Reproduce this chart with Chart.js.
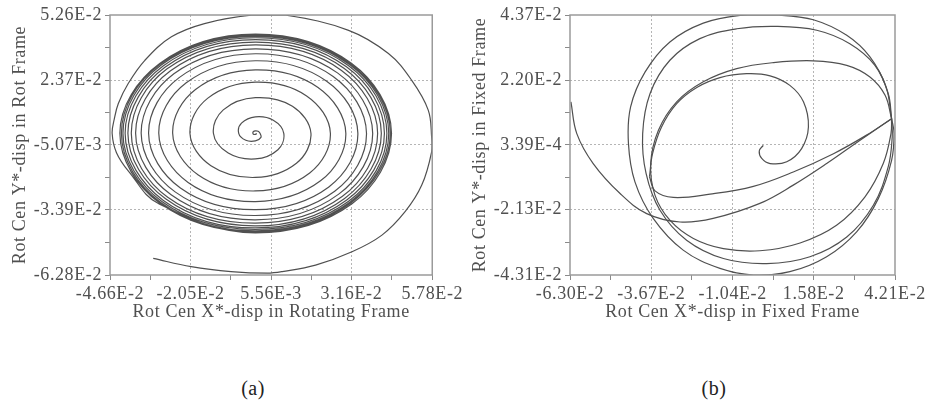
<!DOCTYPE html>
<html><head><meta charset="utf-8">
<script src="https://cdn.jsdelivr.net/npm/chart.js@4.4.1/dist/chart.umd.min.js"></script>
<style>
html,body{margin:0;padding:0;background:#fff;width:927px;height:407px;overflow:hidden;position:relative;}
canvas{position:absolute;top:0;}
#ca{left:0;} #cb{left:460px;}
.cap{position:absolute;top:376px;font:20px "Liberation Serif","Times New Roman",serif;color:#222;width:60px;text-align:center;line-height:24px;letter-spacing:0.5px;}
</style></head><body>
<canvas id="ca" width="464" height="330"></canvas>
<canvas id="cb" width="467" height="330"></canvas>
<div class="cap" style="left:223px">(a)</div>
<div class="cap" style="left:684px">(b)</div>
<script>
// ---- Axis ticks (a) ----
const aXTicks = [-0.0466, -0.0205, 0.00556, 0.0316, 0.0578];
const aXLabels = ['-4.66E-2', '-2.05E-2', '5.56E-3', '3.16E-2', '5.78E-2'];
const aXMinor = [-0.03355, -0.00747, 0.01858, 0.0447];
const aYTicks = [-0.0628, -0.0339, -0.00507, 0.0237, 0.0526];
const aYLabels = ['-6.28E-2', '-3.39E-2', '-5.07E-3', '2.37E-2', '5.26E-2'];
const aYMinor = [-0.04835, -0.01949, 0.00932, 0.03815];
// ---- Axis ticks (b) ----
const bXTicks = [-0.0630, -0.0367, -0.0104, 0.0158, 0.0421];
const bXLabels = ['-6.30E-2', '-3.67E-2', '-1.04E-2', '1.58E-2', '4.21E-2'];
const bXMinor = [-0.04985, -0.02355, 0.0027, 0.02895];
const bYTicks = [-0.0431, -0.0213, 0.000339, 0.0220, 0.0437];
const bYLabels = ['-4.31E-2', '-2.13E-2', '3.39E-4', '2.20E-2', '4.37E-2'];
const bYMinor = [-0.0322, -0.01048, 0.01117, 0.03285];

// ---- (a) orbit in rotating frame: [x, y] ----
const aOrbit = [
[0.0007,0.0001],[0.0008,-0.0002],[0.0005,-0.0004],[0.0000,-0.0004],[-0.0003,0.0001],[-0.0002,0.0008],[0.0005,0.0012],[0.0014,0.0010],
[0.0020,0.0001],[0.0023,-0.0017],[0.0005,-0.0033],[-0.0026,-0.0030],[-0.0049,0.0001],[-0.0040,0.0046],[0.0005,0.0074],[0.0063,0.0059],
[0.0097,0.0001],[0.0078,-0.0072],[0.0005,-0.0113],[-0.0083,-0.0087],[-0.0131,0.0001],[-0.0099,0.0105],[0.0005,0.0159],[0.0125,0.0121],
[0.0185,0.0001],[0.0138,-0.0132],[0.0005,-0.0195],[-0.0139,-0.0143],[-0.0207,0.0001],[-0.0150,0.0156],[0.0005,0.0228],[0.0171,0.0167],
[0.0248,0.0001],[0.0181,-0.0175],[0.0005,-0.0255],[-0.0180,-0.0184],[-0.0263,0.0001],[-0.0189,0.0195],[0.0005,0.0282],[0.0208,0.0204],
[0.0298,0.0001],[0.0216,-0.0210],[0.0005,-0.0302],[-0.0213,-0.0217],[-0.0308,0.0001],[-0.0219,0.0225],[0.0005,0.0323],[0.0236,0.0232],
[0.0337,0.0001],[0.0243,-0.0237],[0.0005,-0.0338],[-0.0238,-0.0242],[-0.0341,0.0001],[-0.0242,0.0248],[0.0005,0.0354],[0.0257,0.0253],
[0.0365,0.0001],[0.0262,-0.0256],[0.0005,-0.0364],[-0.0255,-0.0259],[-0.0365,0.0001],[-0.0259,0.0265],[0.0005,0.0376],[0.0272,0.0268],
[0.0385,0.0001],[0.0275,-0.0269],[0.0005,-0.0383],[-0.0268,-0.0272],[-0.0383,0.0001],[-0.0271,0.0277],[0.0005,0.0393],[0.0284,0.0280],
[0.0401,0.0001],[0.0286,-0.0280],[0.0005,-0.0398],[-0.0279,-0.0283],[-0.0397,0.0001],[-0.0281,0.0287],[0.0005,0.0406],[0.0293,0.0289],
[0.0413,0.0001],[0.0294,-0.0288],[0.0005,-0.0410],[-0.0286,-0.0290],[-0.0408,0.0001],[-0.0288,0.0294],[0.0005,0.0417],[0.0300,0.0296],
[0.0423,0.0001],[0.0301,-0.0295],[0.0005,-0.0419],[-0.0293,-0.0297],[-0.0417,0.0001],[-0.0294,0.0300],[0.0005,0.0425],[0.0306,0.0302],
[0.0431,0.0001],[0.0307,-0.0301],[0.0005,-0.0426],[-0.0298,-0.0302],[-0.0424,0.0001],[-0.0299,0.0305],[0.0005,0.0431],[0.0310,0.0306],
[0.0437,0.0001],[0.0311,-0.0305],[0.0005,-0.0432],[-0.0302,-0.0306],[-0.0429,0.0001],[-0.0303,0.0309],[0.0005,0.0436],[0.0313,0.0309],
[0.0442,0.0001],[0.0314,-0.0308],[0.0005,-0.0437],[-0.0305,-0.0309],[-0.0434,0.0001],[-0.0305,0.0311],[0.0005,0.0441],[0.0316,0.0312],
[0.0446,0.0001],[0.0318,-0.0312],[0.0005,-0.0441],[-0.0308,-0.0312],
[-0.0405,-0.0169],[-0.0445,-0.0085],[-0.0459,0.0000],[-0.0452,0.0065],[-0.0439,0.0133],[-0.0407,0.0222],[-0.0353,0.0325],[-0.0267,0.0429],[-0.0160,0.0488],
[-0.0009,0.0525],[0.0104,0.0525],[0.0307,0.0458],[0.0436,0.0355],[0.0511,0.0237],[0.0565,0.0104],[0.0576,-0.0015],
[0.0576,-0.0081],[0.0544,-0.0229],[0.0490,-0.0347],[0.0415,-0.0451],[0.0318,-0.0525],[0.0200,-0.0584],[0.0092,-0.0613],
[0.0044,-0.0620],[-0.0074,-0.0613],[-0.0203,-0.0591],[-0.0326,-0.0554]
];

// ---- (b) orbit in fixed frame, split at its sharp corners: [x, y] ----
const bInner = [[-0.0005,0.0002],[-0.0018,-0.0017],[-0.0010,-0.0042],[0.0017,-0.0059],[0.0071,-0.0053],[0.0119,-0.0009],[0.0141,0.0063],[0.0125,0.0147],[0.0081,0.0202],[0.0017,0.0234],[-0.0059,0.0241],[-0.0145,0.0228],[-0.0220,0.0195],[-0.0285,0.0141],[-0.0334,0.0063],[-0.0363,-0.0026],[-0.0373,-0.0103]];
const bTeardrop = [[-0.0373,-0.0103],[-0.0355,-0.0150],[-0.0296,-0.0172],[-0.0177,-0.0161],[-0.0037,-0.0135],[0.0092,-0.0087],[0.0222,-0.0026],[0.0329,0.0036],[0.0410,0.0091]];
const bLap2 = [[0.0410,0.0091],[0.0389,0.0169],[0.0340,0.0230],[0.0265,0.0269],[0.0157,0.0284],[0.0028,0.0278],[-0.0091,0.0258],[-0.0199,0.0214],[-0.0285,0.0147],[-0.0344,0.0052],[-0.0369,-0.0059],[-0.0355,-0.0165],[-0.0307,-0.0248],[-0.0231,-0.0309],[-0.0134,-0.0343],[-0.0016,-0.0350],[0.0114,-0.0324],[0.0232,-0.0265],[0.0324,-0.0170],[0.0383,-0.0059],[0.0408,0.0041],[0.0410,0.0091]];
const bLap3 = [[0.0410,0.0091],[0.0399,0.0175],[0.0356,0.0269],[0.0275,0.0341],[0.0168,0.0386],[0.0038,0.0399],[-0.0091,0.0391],[-0.0210,0.0358],[-0.0307,0.0286],[-0.0371,0.0175],[-0.0395,0.0041],[-0.0384,-0.0092],[-0.0339,-0.0215],[-0.0253,-0.0315],[-0.0134,-0.0376],[0.0006,-0.0393],[0.0146,-0.0370],[0.0265,-0.0304],[0.0351,-0.0198],[0.0399,-0.0070],[0.0412,0.0030],[0.0410,0.0091]];
const bLap4 = [[0.0410,0.0091],[0.0392,0.0197],[0.0340,0.0297],[0.0265,0.0369],[0.0157,0.0421],[0.0038,0.0437],[-0.0080,0.0436],[-0.0199,0.0410],[-0.0307,0.0347],[-0.0387,0.0247],[-0.0434,0.0130],[-0.0441,0.0008],[-0.0420,-0.0120],[-0.0361,-0.0242],[-0.0264,-0.0348],[-0.0145,-0.0409],[-0.0037,-0.0431],[0.0081,-0.0420],[0.0200,-0.0370],[0.0297,-0.0287],[0.0367,-0.0176],[0.0410,-0.0048],[0.0418,0.0041],[0.0410,0.0091]];
const bTail = [[0.0410,0.0091],[0.0308,0.0019],[0.0200,-0.0059],[0.0092,-0.0131],[-0.0016,-0.0192],[-0.0167,-0.0242],[-0.0274,-0.0254],[-0.0382,-0.0226],[-0.0468,-0.0159],[-0.0555,-0.0059],[-0.0608,0.0041],[-0.0627,0.0147]];

const FONT = '"Liberation Serif","Times New Roman",serif';
const TEXT = '#505050';
const LINE = '#505050';

function tickList(major, minor) {
  const t = [];
  major.forEach((v, i) => {
    t.push({ value: v, isMinor: false, li: i });
    if (i < minor.length) t.push({ value: minor[i], isMinor: true, li: -1 });
  });
  return t;
}

function axisOpts(major, labels, minor, title, isX) {
  return {
    type: 'linear',
    min: major[0],
    max: major[major.length - 1],
    afterBuildTicks: s => { s.ticks = tickList(major, minor); },
    afterFit: s => { if (isX) s.height = 55; else s.width = 110; },
    ticks: {
      autoSkip: false, maxRotation: 0, minRotation: 0,
      padding: 3, color: TEXT,
      font: { family: FONT, size: 18 },
      callback: (v, i, t) => (t[i] && !t[i].isMinor) ? labels[t[i].li] : ''
    },
    grid: {
      color: ctx => (ctx.tick && !ctx.tick.isMinor && ctx.index > 0 && ctx.index < major.length * 2 - 2) ? '#b5b5b5' : 'rgba(0,0,0,0)',
      tickColor: '#8a8a8a',
      tickLength: 5,
      lineWidth: 1
    },
    border: { display: false, dash: [2, 2] },
    title: {
      display: true, text: title, color: TEXT,
      font: { family: FONT, size: 18 },
      padding: isX ? { top: 0, bottom: 7 } : { top: 9, bottom: 0 }
    }
  };
}

const framePlugin = {
  id: 'frame',
  beforeDraw(chart) { chart.ctx.letterSpacing = '0.6px'; },
  afterDatasetsDraw(chart) {
    const { ctx, chartArea: a } = chart;
    ctx.save();
    ctx.strokeStyle = '#9a9a9a';
    ctx.lineWidth = 1.5;
    ctx.strokeRect(a.left, a.top, a.right - a.left, a.bottom - a.top);
    ctx.restore();
  }
};

function ds(pairs) {
  return {
    data: pairs.map(p => ({ x: p[0], y: p[1] })),
    showLine: true, borderColor: LINE, borderWidth: 1.2, pointRadius: 0, tension: 0.38, fill: false
  };
}

function makeChart(id, datasets, xT, xL, xM, yT, yL, yM, xTitle, yTitle, rightPad) {
  return new Chart(document.getElementById(id), {
    type: 'scatter',
    data: { datasets },
    options: {
      responsive: false, animation: false, devicePixelRatio: 1,
      layout: { padding: { left: 0, right: rightPad, top: 15, bottom: 0 } },
      plugins: { legend: { display: false }, tooltip: { enabled: false } },
      scales: {
        x: axisOpts(xT, xL, xM, xTitle, true),
        y: axisOpts(yT, yL, yM, yTitle, false)
      }
    },
    plugins: [framePlugin]
  });
}

makeChart('ca', [ds(aOrbit)], aXTicks, aXLabels, aXMinor, aYTicks, aYLabels, aYMinor,
  'Rot Cen X*-disp in Rotating Frame', 'Rot Cen Y*-disp in Rot Frame', 30);
makeChart('cb', [ds(bInner), ds(bTeardrop), ds(bLap2), ds(bLap3), ds(bLap4), ds(bTail)],
  bXTicks, bXLabels, bXMinor, bYTicks, bYLabels, bYMinor,
  'Rot Cen X*-disp in Fixed Frame', 'Rot Cen Y*-disp in Fixed Frame', 32);
</script></body></html>
